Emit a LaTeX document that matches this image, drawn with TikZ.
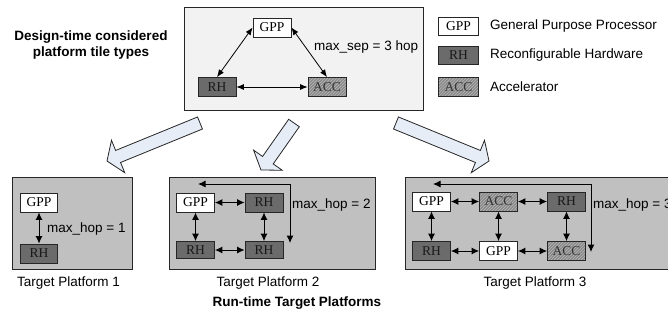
\documentclass[tikz,border=0pt]{standalone}
\usepackage{fontspec}
\setmainfont{Liberation Serif}
\setsansfont{Liberation Sans}
\usetikzlibrary{arrows.meta,calc,patterns}
\definecolor{rhgray}{HTML}{6B6B6B}
\definecolor{accgray}{HTML}{8A8A8A}
\definecolor{acclines}{HTML}{B8B8B8}
\definecolor{platgray}{HTML}{C0C0C0}
\definecolor{topfill}{HTML}{F2F2F3}
\definecolor{arrowfill}{HTML}{E6EDF7}
\begin{document}
\begin{tikzpicture}[x=1pt,y=-1pt,
  tile/.style={draw=black!85, line width=0.8pt, minimum width=38pt, minimum height=19pt, inner sep=0pt, font=\fontsize{13.5}{14}\selectfont},
  gpptile/.style={tile, fill=white},
  rhtile/.style={tile, fill=rhgray, text=black!90},
  acctile/.style={tile, preaction={fill=accgray}, pattern=north east lines, pattern color=acclines, text=black!80},
  conn/.style={line width=0.8pt, {Latex[length=7.5pt,width=6pt]}-{Latex[length=7.5pt,width=6pt]}},
  pconn/.style={line width=1pt, {Latex[length=7.5pt,width=7pt]}-{Latex[length=7.5pt,width=7pt]}},
  lbl/.style={font=\sffamily\fontsize{13.5}{15}\selectfont, inner sep=0pt},
  blbl/.style={font=\sffamily\bfseries\fontsize{13.5}{16}\selectfont, inner sep=0pt, align=center},
  panel/.style={draw=black!85, line width=0.8pt},
  blockarrow/.style={draw=black!85, line width=0.8pt, fill=arrowfill, line join=miter}
]
\useasboundingbox (0,0) rectangle (668,322);
\clip (0,0) rectangle (668,322);

% ---------- design-time box ----------
\node[blbl] (dtitle) at (91,45) {Design-time considered\\platform tile types};
\draw[panel, fill=topfill] (184,7) rectangle (423,110);
\node[gpptile] (tgpp) at (272,27.5) {GPP};
\node[rhtile]  (trh)  at (217,87) {RH};
\node[acctile] (tacc) at (327,87) {ACC};
\draw[conn] (tgpp.west) -- (trh.north);
\draw[conn] (tgpp.east) -- (tacc.north);
\draw[conn] (trh.east) -- (tacc.west);
\node[lbl, anchor=west] (msep) at (314,47) {max\_sep = 3 hop};

% ---------- legend ----------
\node[gpptile, minimum height=18pt, minimum width=40pt] (lgpp) at (458.5,26) {GPP};
\node[rhtile,  minimum height=18pt, minimum width=40pt] (lrh)  at (458.5,55.5) {RH};
\node[acctile, minimum height=19pt, minimum width=40pt] (lacc) at (458.5,87) {ACC};
\node[lbl, anchor=west] (lgppt) at (490,26) {General Purpose Processor};
\node[lbl, anchor=west] (lrht)  at (490,55.5) {Reconfigurable Hardware};
\node[lbl, anchor=west] (lacct) at (490,87) {Accelerator};

% ---------- block arrows ----------
\def\sw{6.5pt}\def\hw{17.5pt}\def\hl{12pt}
\foreach \ax/\ay/\bx/\by in {200/123/107/161, 294/123/261/170, 396/123/489/161}{
  \coordinate (A) at (\ax,\ay);
  \coordinate (B) at (\bx,\by);
  \coordinate (H) at ($(B)!\hl!(A)$);
  \draw[blockarrow] ($(A)!\sw!90:(B)$) -- ($(A)!\sw!-90:(B)$) -- ($(H)!\sw!-90:(B)$)
    -- ($(H)!\hw!-90:(B)$) -- (B) -- ($(H)!\hw!90:(B)$) -- ($(H)!\sw!90:(B)$) -- cycle;
}

% ---------- platform 1 ----------
\draw[panel, fill=platgray] (12,177) rectangle (132,269);
\node[gpptile, minimum width=37pt] (p1gpp) at (39,202.5) {GPP};
\node[rhtile, minimum width=37pt]  (p1rh)  at (39,253.5) {RH};
\draw[pconn] (p1gpp) -- (p1rh);
\node[lbl, anchor=west] (p1hop) at (47,229) {max\_hop = 1};
\node[lbl] (p1t) at (68.5,283) {Target Platform 1};

% ---------- platform 2 ----------
\draw[panel, fill=platgray] (169,177) rectangle (375,269);
\node[gpptile] (p2gpp) at (195.5,202.5) {GPP};
\node[rhtile]  (p2rha) at (264,202.5) {RH};
\node[rhtile, minimum height=17pt]  (p2rhb) at (195.5,250) {RH};
\node[rhtile, minimum height=17pt]  (p2rhc) at (264,250) {RH};
\draw[pconn] (p2gpp) -- (p2rha);
\draw[pconn] (p2rhb) -- (p2rhc);
\draw[pconn] (p2gpp) -- (p2rhb);
\draw[pconn] (p2rha) -- (p2rhc);
\coordinate (l2a) at (290,243);
\coordinate (l2b) at (198,184);
\draw[pconn] (l2a) |- (l2b);
\node[lbl, anchor=west] (p2hop) at (292,205) {max\_hop = 2};
\node[lbl] (p2t) at (268,283) {Target Platform 2};
\node[blbl] (rtt) at (297,303) {Run-time Target Platforms};

% ---------- platform 3 ----------
\draw[panel, fill=platgray] (405,177) rectangle (700,269);
\node[gpptile] (p3gppa) at (431.5,201.5) {GPP};
\node[acctile] (p3acca) at (498.5,201.5) {ACC};
\node[rhtile]  (p3rha)  at (566.5,201.5) {RH};
\node[rhtile]  (p3rhb)  at (431.5,251) {RH};
\node[gpptile] (p3gppb) at (498.5,251) {GPP};
\node[acctile] (p3accb) at (566.5,251) {ACC};
\draw[pconn] (p3gppa) -- (p3acca);
\draw[pconn] (p3acca) -- (p3rha);
\draw[pconn] (p3rhb) -- (p3gppb);
\draw[pconn] (p3gppb) -- (p3accb);
\draw[pconn] (p3gppa) -- (p3rhb);
\draw[pconn] (p3acca) -- (p3gppb);
\draw[pconn] (p3rha) -- (p3accb);
\coordinate (l3a) at (591,252);
\coordinate (l3b) at (433,184);
\draw[pconn] (l3a) |- (l3b);
\node[lbl, anchor=west] (p3hop) at (593,205) {max\_hop = 3};
\node[lbl] (p3t) at (535,283) {Target Platform 3};
\end{tikzpicture}
\end{document}
